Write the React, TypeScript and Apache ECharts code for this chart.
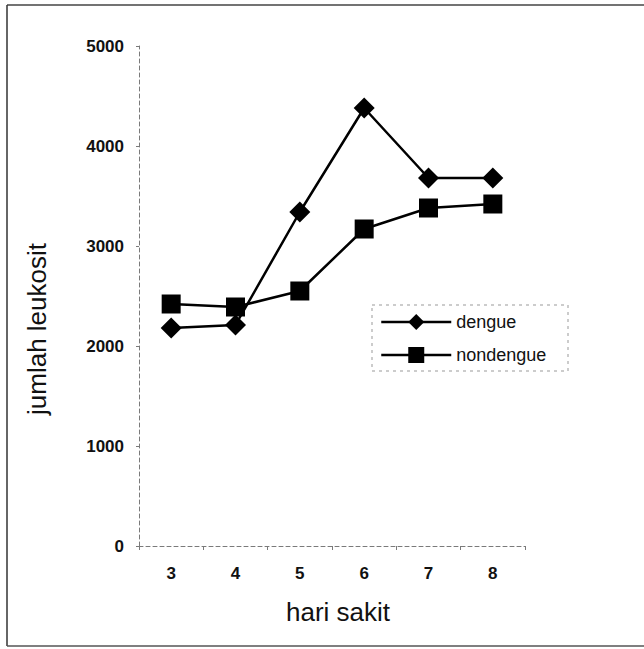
import React, { useEffect, useRef } from "react";
import * as echarts from "echarts";

const categories = ["3", "4", "5", "6", "7", "8"];
const dengue = [2180, 2210, 3340, 4380, 3680, 3680];
const nondengue = [2420, 2390, 2550, 3170, 3380, 3420];
const yTitle = "jumlah leukosit";
const xTitle = "hari sakit";

export default function App() {
  const ref = useRef<HTMLDivElement>(null);
  useEffect(() => {
    document.body.style.margin = "0";
    const chart = echarts.init(ref.current!, null, { renderer: "svg" });
    const axisLine = { show: true, lineStyle: { color: "#7a7a7a", width: 1, type: [4, 3] as any } };
    chart.setOption({
      animation: false,
      backgroundColor: "#fff",
      grid: { left: 139, right: 119, top: 46, bottom: 103 },
      xAxis: {
        type: "category",
        data: categories,
        boundaryGap: true,
        axisLine,
        axisTick: { show: true, length: 4, lineStyle: { color: "#7a7a7a" } },
        axisLabel: { color: "#111", fontSize: 17, fontWeight: "bold", fontFamily: "Liberation Sans", margin: 19 },
        splitLine: { show: false },
      },
      yAxis: {
        type: "value",
        min: 0,
        max: 5000,
        interval: 1000,
        axisLine,
        axisTick: { show: true, length: 3, lineStyle: { color: "#7a7a7a" } },
        axisLabel: {
          color: "#111",
          fontSize: 17,
          fontWeight: "bold",
          fontFamily: "Liberation Sans",
          margin: 15,
          formatter: (v: number) => String(v),
        },
        splitLine: { show: false },
      },
      legend: {
        orient: "vertical",
        left: 380,
        top: 313,
        itemWidth: 70,
        itemHeight: 20,
        itemGap: 15,
        padding: 0,
        lineStyle: { width: 2.5 },
        textStyle: { color: "#111", fontSize: 18, fontFamily: "Liberation Sans" },
        data: ["dengue", "nondengue"],
      },
      series: [
        {
          name: "dengue",
          type: "line",
          data: dengue,
          symbol: "diamond",
          symbolSize: 21,
          itemStyle: { color: "#000" },
          lineStyle: { color: "#000", width: 2.5 },
        },
        {
          name: "nondengue",
          type: "line",
          data: nondengue,
          symbol: "rect",
          symbolSize: 19,
          itemStyle: { color: "#000" },
          lineStyle: { color: "#000", width: 2.5 },
        },
      ],
      graphic: [
        {
          type: "rect",
          shape: { x: 372, y: 305, width: 196, height: 66 },
          style: { fill: "none", stroke: "#999", lineWidth: 1, lineDash: [3, 4] },
          z: 0,
        },
        {
          type: "line",
          shape: { x1: 7, y1: 5, x2: 644, y2: 5 },
          style: { stroke: "#444", lineWidth: 1.5 },
        },
        {
          type: "line",
          shape: { x1: 7, y1: 5, x2: 7, y2: 646 },
          style: { stroke: "#333", lineWidth: 1.5 },
        },
        {
          type: "line",
          shape: { x1: 7, y1: 646, x2: 644, y2: 646 },
          style: { stroke: "#555", lineWidth: 1.5 },
        },
        {
          type: "text",
          x: 37,
          y: 329,
          rotation: Math.PI / 2,
          style: {
            text: yTitle,
            fill: "#111",
            fontSize: 26,
            fontFamily: "Liberation Sans",
            align: "center",
            verticalAlign: "middle",
          },
        },
        {
          type: "text",
          x: 338,
          y: 612,
          style: {
            text: xTitle,
            fill: "#111",
            fontSize: 26,
            fontFamily: "Liberation Sans",
            align: "center",
            verticalAlign: "middle",
          },
        },
      ],
    });
    return () => chart.dispose();
  }, []);
  return <div ref={ref} style={{ width: 644, height: 649 }} />;
}
